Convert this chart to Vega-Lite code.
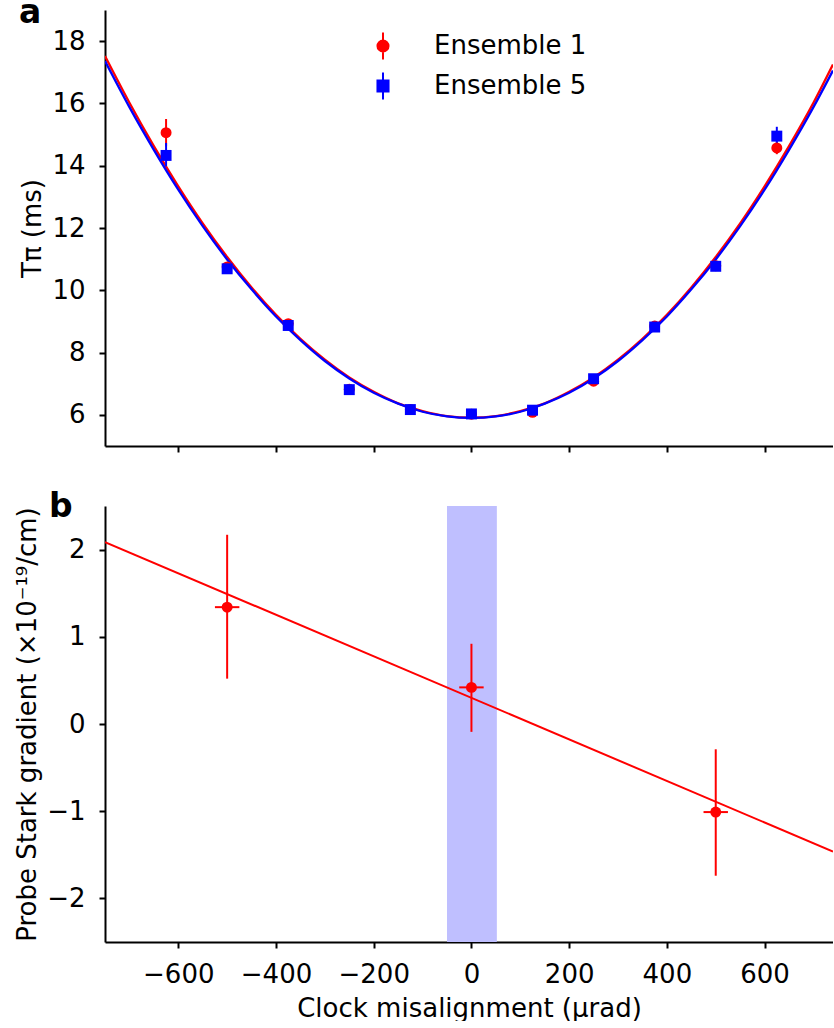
{
  "$schema": "https://vega.github.io/schema/vega-lite/v6.json",
  "padding": {"left": 14, "top": -3, "right": 0, "bottom": 0},
  "background": "white",
  "spacing": 60,
  "bounds": "flush",
  "config": {
    "font": "DejaVu Sans",
    "view": {"stroke": null},
    "axis": {
      "domainColor": "black", "domainWidth": 2, "tickColor": "black", "tickWidth": 2, "tickSize": 6,
      "labelFont": "DejaVu Sans", "labelFontSize": 26, "labelColor": "black", "labelPadding": 14,
      "titleFont": "DejaVu Sans", "titleFontSize": 26, "titleFontWeight": "normal", "titleColor": "black",
      "grid": false
    },
    "title": {"font": "DejaVu Sans", "fontSize": 33, "fontWeight": "bold", "color": "black", "anchor": "start", "frame": "group", "orient": "top", "baseline": "alphabetic", "offset": 0}
  },
  "datasets": {
    "curves": [
      {"x": -750, "T": 17.52, "series": "Ensemble 1"}, {"x": -700, "T": 16.02, "series": "Ensemble 1"}, {"x": -650, "T": 14.63, "series": "Ensemble 1"}, {"x": -600, "T": 13.34, "series": "Ensemble 1"}, {"x": -550, "T": 12.15, "series": "Ensemble 1"}, {"x": -500, "T": 11.07, "series": "Ensemble 1"}, {"x": -450, "T": 10.09, "series": "Ensemble 1"}, {"x": -400, "T": 9.21, "series": "Ensemble 1"}, {"x": -350, "T": 8.44, "series": "Ensemble 1"}, {"x": -300, "T": 7.77, "series": "Ensemble 1"}, {"x": -250, "T": 7.20, "series": "Ensemble 1"}, {"x": -200, "T": 6.74, "series": "Ensemble 1"}, {"x": -150, "T": 6.37, "series": "Ensemble 1"}, {"x": -100, "T": 6.12, "series": "Ensemble 1"}, {"x": -50, "T": 5.96, "series": "Ensemble 1"}, {"x": 0, "T": 5.91, "series": "Ensemble 1"}, {"x": 50, "T": 5.96, "series": "Ensemble 1"}, {"x": 100, "T": 6.12, "series": "Ensemble 1"}, {"x": 150, "T": 6.37, "series": "Ensemble 1"}, {"x": 200, "T": 6.74, "series": "Ensemble 1"}, {"x": 250, "T": 7.20, "series": "Ensemble 1"}, {"x": 300, "T": 7.77, "series": "Ensemble 1"}, {"x": 350, "T": 8.44, "series": "Ensemble 1"}, {"x": 400, "T": 9.21, "series": "Ensemble 1"}, {"x": 450, "T": 10.09, "series": "Ensemble 1"}, {"x": 500, "T": 11.07, "series": "Ensemble 1"}, {"x": 550, "T": 12.15, "series": "Ensemble 1"}, {"x": 600, "T": 13.34, "series": "Ensemble 1"}, {"x": 650, "T": 14.63, "series": "Ensemble 1"}, {"x": 700, "T": 16.02, "series": "Ensemble 1"}, {"x": 740, "T": 17.25, "series": "Ensemble 1"},
      {"x": -750, "T": 17.36, "series": "Ensemble 5"}, {"x": -700, "T": 15.88, "series": "Ensemble 5"}, {"x": -650, "T": 14.51, "series": "Ensemble 5"}, {"x": -600, "T": 13.23, "series": "Ensemble 5"}, {"x": -550, "T": 12.06, "series": "Ensemble 5"}, {"x": -500, "T": 10.99, "series": "Ensemble 5"}, {"x": -450, "T": 10.03, "series": "Ensemble 5"}, {"x": -400, "T": 9.16, "series": "Ensemble 5"}, {"x": -350, "T": 8.40, "series": "Ensemble 5"}, {"x": -300, "T": 7.73, "series": "Ensemble 5"}, {"x": -250, "T": 7.17, "series": "Ensemble 5"}, {"x": -200, "T": 6.71, "series": "Ensemble 5"}, {"x": -150, "T": 6.36, "series": "Ensemble 5"}, {"x": -100, "T": 6.10, "series": "Ensemble 5"}, {"x": -50, "T": 5.95, "series": "Ensemble 5"}, {"x": 0, "T": 5.90, "series": "Ensemble 5"}, {"x": 50, "T": 5.95, "series": "Ensemble 5"}, {"x": 100, "T": 6.10, "series": "Ensemble 5"}, {"x": 150, "T": 6.36, "series": "Ensemble 5"}, {"x": 200, "T": 6.71, "series": "Ensemble 5"}, {"x": 250, "T": 7.17, "series": "Ensemble 5"}, {"x": 300, "T": 7.73, "series": "Ensemble 5"}, {"x": 350, "T": 8.40, "series": "Ensemble 5"}, {"x": 400, "T": 9.16, "series": "Ensemble 5"}, {"x": 450, "T": 10.03, "series": "Ensemble 5"}, {"x": 500, "T": 10.99, "series": "Ensemble 5"}, {"x": 550, "T": 12.06, "series": "Ensemble 5"}, {"x": 600, "T": 13.23, "series": "Ensemble 5"}, {"x": 650, "T": 14.51, "series": "Ensemble 5"}, {"x": 700, "T": 15.88, "series": "Ensemble 5"}, {"x": 740, "T": 17.06, "series": "Ensemble 5"}
    ],
    "pts": [
      {"x": -625, "T": 15.06, "lo": 14.62, "hi": 15.50, "series": "Ensemble 1"},
      {"x": -500, "T": 10.75, "lo": 10.65, "hi": 10.85, "series": "Ensemble 1"},
      {"x": -375, "T": 8.93, "lo": 8.83, "hi": 9.03, "series": "Ensemble 1"},
      {"x": -250, "T": 6.82, "lo": 6.74, "hi": 6.90, "series": "Ensemble 1"},
      {"x": -125, "T": 6.17, "lo": 6.09, "hi": 6.25, "series": "Ensemble 1"},
      {"x": 0, "T": 6.02, "lo": 5.94, "hi": 6.10, "series": "Ensemble 1"},
      {"x": 125, "T": 6.08, "lo": 6.00, "hi": 6.16, "series": "Ensemble 1"},
      {"x": 250, "T": 7.08, "lo": 7.00, "hi": 7.16, "series": "Ensemble 1"},
      {"x": 375, "T": 8.85, "lo": 8.77, "hi": 8.93, "series": "Ensemble 1"},
      {"x": 500, "T": 10.79, "lo": 10.69, "hi": 10.89, "series": "Ensemble 1"},
      {"x": 625, "T": 14.57, "lo": 14.37, "hi": 14.77, "series": "Ensemble 1"},
      {"x": -625, "T": 14.33, "lo": 13.98, "hi": 14.73, "series": "Ensemble 5"},
      {"x": -500, "T": 10.69, "lo": 10.59, "hi": 10.79, "series": "Ensemble 5"},
      {"x": -375, "T": 8.87, "lo": 8.79, "hi": 8.95, "series": "Ensemble 5"},
      {"x": -250, "T": 6.81, "lo": 6.74, "hi": 6.88, "series": "Ensemble 5"},
      {"x": -125, "T": 6.17, "lo": 6.10, "hi": 6.24, "series": "Ensemble 5"},
      {"x": 0, "T": 6.03, "lo": 5.96, "hi": 6.10, "series": "Ensemble 5"},
      {"x": 125, "T": 6.15, "lo": 6.08, "hi": 6.22, "series": "Ensemble 5"},
      {"x": 250, "T": 7.16, "lo": 7.08, "hi": 7.24, "series": "Ensemble 5"},
      {"x": 375, "T": 8.82, "lo": 8.74, "hi": 8.90, "series": "Ensemble 5"},
      {"x": 500, "T": 10.77, "lo": 10.67, "hi": 10.87, "series": "Ensemble 5"},
      {"x": 625, "T": 14.95, "lo": 14.65, "hi": 15.25, "series": "Ensemble 5"}
    ],
    "stark": [
      {"x": -500, "g": 1.34, "lo": 0.52, "hi": 2.17, "xlo": -525, "xhi": -475},
      {"x": 0, "g": 0.42, "lo": -0.09, "hi": 0.92, "xlo": -25, "xhi": 25},
      {"x": 500, "g": -1.01, "lo": -1.74, "hi": -0.29, "xlo": 475, "xhi": 525}
    ],
    "fit": [
      {"x": -750, "g": 2.086},
      {"x": 740, "g": -1.463}
    ],
    "band": [
      {"x": -50, "x2": 52}
    ]
  },
  "vconcat": [
    {
      "width": 728,
      "height": 436,
      "title": {"text": "a", "dx": -86, "dy": 24},
      "layer": [
        {
          "data": {"name": "curves"},
          "mark": {"type": "line", "strokeWidth": 2.3, "interpolate": "monotone", "clip": true},
          "encoding": {
            "x": {"field": "x", "type": "quantitative", "scale": {"domain": [-750, 740], "nice": false, "zero": false},
                  "axis": {"values": [-600, -400, -200, 0, 200, 400, 600], "labels": false, "title": null}},
            "y": {"field": "T", "type": "quantitative", "scale": {"domain": [5, 19], "nice": false, "zero": false},
                  "axis": {"values": [6, 8, 10, 12, 14, 16, 18], "format": "d", "title": "Tπ (ms)", "titlePadding": 6}},
            "color": {"field": "series", "type": "nominal", "scale": {"domain": ["Ensemble 1", "Ensemble 5"], "range": ["#ff0000", "#0000ff"]}}
          }
        },
        {
          "data": {"name": "pts"},
          "mark": {"type": "rule", "strokeWidth": 2},
          "encoding": {
            "x": {"field": "x", "type": "quantitative"},
            "y": {"field": "lo", "type": "quantitative"},
            "y2": {"field": "hi"},
            "color": {"field": "series", "type": "nominal"}
          }
        },
        {
          "data": {"name": "pts"},
          "transform": [{"filter": "datum.series === 'Ensemble 1'"}],
          "mark": {"type": "point", "filled": true, "shape": "circle", "size": 120, "opacity": 1, "color": "#ff0000"},
          "encoding": {
            "x": {"field": "x", "type": "quantitative"},
            "y": {"field": "T", "type": "quantitative"}
          }
        },
        {
          "data": {"name": "pts"},
          "transform": [{"filter": "datum.series === 'Ensemble 5'"}],
          "mark": {"type": "point", "filled": true, "shape": "square", "size": 120, "opacity": 1, "color": "#0000ff"},
          "encoding": {
            "x": {"field": "x", "type": "quantitative"},
            "y": {"field": "T", "type": "quantitative"}
          }
        },
        {
          "data": {"name": "pts"},
          "transform": [{"filter": "datum.x > 100000"}],
          "mark": {"type": "point", "filled": true, "size": 729, "opacity": 1, "strokeWidth": 2},
          "encoding": {
            "x": {"field": "x", "type": "quantitative"},
            "y": {"field": "T", "type": "quantitative"},
            "color": {"field": "series", "type": "nominal"},
            "shape": {"field": "series", "type": "nominal",
              "scale": {"domain": ["Ensemble 1", "Ensemble 5"], "range": ["M0,-1L0,1M-0.41,0A0.41,0.41,0,1,1,0.41,0A0.41,0.41,0,1,1,-0.41,0Z", "M0,-1L0,1M-0.41,-0.41L0.41,-0.41L0.41,0.41L-0.41,0.41Z"]},
              "legend": {
                "orient": "none", "legendX": 263.5, "legendY": 21.5, "title": null, "padding": 0,
                "symbolSize": 729, "symbolStrokeWidth": 2, "labelOffset": 36.5, "labelFontSize": 26, "labelFont": "DejaVu Sans", "labelColor": "black", "rowPadding": 5,
                "encode": {
                  "symbols": {
                    "update": {
                      "stroke": {"signal": "datum.value === 'Ensemble 1' ? '#ff0000' : '#0000ff'"},
                      "fill": {"signal": "datum.value === 'Ensemble 1' ? '#ff0000' : '#0000ff'"},
                      "strokeWidth": {"value": 2},
                      "opacity": {"value": 1}
                    }
                  }
                }
              }
            }
          }
        },
        {
          "mark": {"type": "rule", "color": "black", "strokeWidth": 2},
          "encoding": {"y": {"datum": 19}}
        }
      ]
    },
    {
      "width": 728,
      "height": 436,
      "title": {"text": "b", "dx": -56, "dy": 22},
      "layer": [
        {
          "data": {"name": "band"},
          "mark": {"type": "rect", "color": "#bfbfff", "opacity": 1},
          "encoding": {
            "x": {"field": "x", "type": "quantitative", "scale": {"domain": [-750, 740], "nice": false, "zero": false},
                  "axis": {"values": [-600, -400, -200, 0, 200, 400, 600], "format": "d", "title": "Clock misalignment (μrad)", "titlePadding": 8, "labelPadding": 13}},
            "x2": {"field": "x2"}
          }
        },
        {
          "mark": {"type": "rule", "color": "black", "strokeWidth": 2, "strokeDash": [8, 4.5]},
          "encoding": {"y": {"datum": 0, "type": "quantitative", "scale": {"domain": [-2.5, 2.5], "nice": false, "zero": false},
                  "axis": {"values": [-2, -1, 0, 1, 2], "format": "d", "title": "Probe Stark gradient (×10⁻¹⁹/cm)", "titlePadding": 6}}}
        },
        {
          "data": {"name": "fit"},
          "mark": {"type": "line", "color": "#ff0000", "strokeWidth": 2, "clip": true},
          "encoding": {
            "x": {"field": "x", "type": "quantitative"},
            "y": {"field": "g", "type": "quantitative"}
          }
        },
        {
          "data": {"name": "stark"},
          "mark": {"type": "rule", "color": "#ff0000", "strokeWidth": 2},
          "encoding": {
            "x": {"field": "x", "type": "quantitative"},
            "y": {"field": "lo", "type": "quantitative"},
            "y2": {"field": "hi"}
          }
        },
        {
          "data": {"name": "stark"},
          "mark": {"type": "rule", "color": "#ff0000", "strokeWidth": 2},
          "encoding": {
            "x": {"field": "xlo", "type": "quantitative"},
            "x2": {"field": "xhi"},
            "y": {"field": "g", "type": "quantitative"}
          }
        },
        {
          "data": {"name": "stark"},
          "mark": {"type": "point", "filled": true, "shape": "circle", "size": 120, "color": "#ff0000", "opacity": 1},
          "encoding": {
            "x": {"field": "x", "type": "quantitative"},
            "y": {"field": "g", "type": "quantitative"}
          }
        },
        {
          "mark": {"type": "rule", "color": "black", "strokeWidth": 2},
          "encoding": {"y": {"datum": 2.5}}
        }
      ]
    }
  ]
}
